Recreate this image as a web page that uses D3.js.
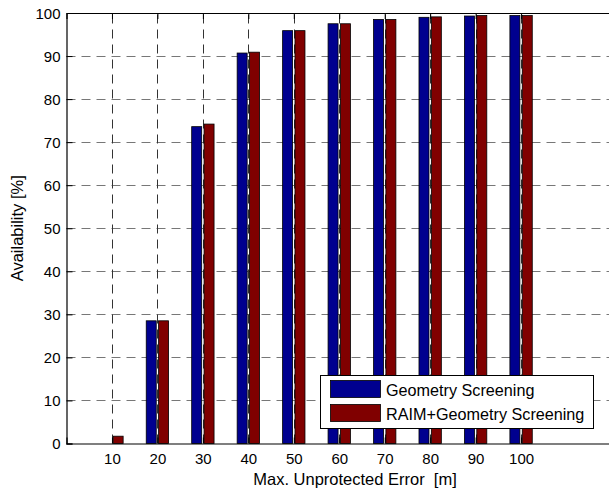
<!DOCTYPE html>
<html>
<head>
<meta charset="utf-8">
<script src="https://cdn.jsdelivr.net/npm/d3@7"></script>
<style>
  html, body { margin: 0; padding: 0; background: #fff; overflow: hidden; }
  svg { display: block; font-family: "Liberation Sans", Arial, sans-serif; }
  text { white-space: pre; }
</style>
</head>
<body>
<svg id="chart" width="609" height="491"></svg>
<script>
// ---- data ----
const categories = [10, 20, 30, 40, 50, 60, 70, 80, 90, 100];
const geometryScreening = [0, 28.5, 73.6, 90.7, 95.9, 97.5, 98.5, 99.0, 99.3, 99.4];
const raimGeometryScreening = [1.7, 28.5, 74.2, 90.9, 95.9, 97.5, 98.5, 99.1, 99.4, 99.4];
const seriesNames = ["Geometry Screening", "RAIM+Geometry Screening"];
const seriesColors = ["#00008f", "#800000"];
const xTicks = [10, 20, 30, 40, 50, 60, 70, 80, 90, 100];
const yTicks = [0, 10, 20, 30, 40, 50, 60, 70, 80, 90, 100];
const xLabel = "Max. Unprotected Error  [m]";
const yLabel = "Availability [%]";

(function () {
// ---- layout ----
const pLeft = 66.5, pRight = 612, pTop = 13, pBottom = 443.5;
const svg = d3.select("#chart");

const x = d3.scaleLinear().domain([0, 120]).range([pLeft, pRight]);
const y = d3.scaleLinear().domain([0, 100]).range([pBottom, pTop]);

const barWidth = 2.2;   // in data units
const offset = 1.36;    // in data units

// grid
const grid = svg.append("g");
grid.selectAll("line.h").data(yTicks.filter(d => d > 0 && d < 100)).enter()
  .append("line")
  .attr("x1", pLeft).attr("x2", pRight)
  .attr("y1", d => Math.round(y(d)) + 0.5).attr("y2", d => Math.round(y(d)) + 0.5)
  .attr("stroke", "#777").attr("stroke-width", 1)
  .attr("stroke-dasharray", "9,6");
grid.selectAll("line.v").data(xTicks).enter()
  .append("line")
  .attr("x1", d => Math.round(x(d)) + 0.5).attr("x2", d => Math.round(x(d)) + 0.5)
  .attr("y1", pBottom).attr("y2", pTop)
  .attr("stroke", "#333").attr("stroke-width", 1)
  .attr("stroke-dasharray", "9,6");

// bars
const series = [geometryScreening, raimGeometryScreening];
const offsets = [-offset, offset];
series.forEach((vals, si) => {
  svg.append("g").selectAll("rect").data(categories).enter()
    .append("rect")
    .attr("x", (c) => x(c + offsets[si] - barWidth / 2))
    .attr("width", (c) => x(c + offsets[si] + barWidth / 2) - x(c + offsets[si] - barWidth / 2))
    .attr("y", (c, i) => y(vals[i]))
    .attr("height", (c, i) => y(0) - y(vals[i]))
    .attr("fill", seriesColors[si])
    .attr("stroke", "#000").attr("stroke-width", 0.8)
    .attr("display", (c, i) => vals[i] > 0 ? null : "none");
});

// axes
const xAxis = d3.axisBottom(x).tickValues(xTicks).tickSize(-6).tickPadding(10).tickFormat(d3.format("d"));
const gx = svg.append("g").attr("transform", `translate(0,${pBottom})`).call(xAxis);
const xAxisTop = d3.axisTop(x).tickValues(xTicks).tickSize(-6).tickFormat("");
const gxt = svg.append("g").attr("transform", `translate(0,${pTop})`).call(xAxisTop);
const yAxis = d3.axisLeft(y).tickValues(yTicks).tickSize(-6).tickPadding(6).tickFormat(d3.format("d"));
const gy = svg.append("g").attr("transform", `translate(${pLeft},0)`).call(yAxis);

[gx, gxt, gy].forEach(g => {
  g.select(".domain").attr("stroke", "#000").attr("stroke-width", 1.2);
  g.selectAll(".tick line").attr("stroke", "#000");
  g.selectAll(".tick text").attr("fill", "#000").attr("font-size", 15)
    .attr("font-family", "Liberation Sans, Arial, sans-serif");
});
gy.selectAll(".tick text").attr("dy", "0.36em");
gy.selectAll(".tick").filter(d => d === 100).select("line").remove();

// axis labels
svg.append("text")
  .attr("x", 355).attr("y", 485)
  .attr("text-anchor", "middle")
  .attr("font-size", 16.5).attr("fill", "#000")
  .text(xLabel);
svg.append("text")
  .attr("transform", `translate(23,${(pTop + pBottom) / 2}) rotate(-90)`)
  .attr("text-anchor", "middle")
  .attr("font-size", 16.5).attr("fill", "#000")
  .text(yLabel);

// legend
const lg = svg.append("g");
lg.append("rect").attr("x", 320.5).attr("y", 375.5).attr("width", 273).attr("height", 53)
  .attr("fill", "#fff").attr("stroke", "#000").attr("stroke-width", 1);
seriesNames.forEach((name, i) => {
  lg.append("rect").attr("x", 330.5).attr("y", 380.5 + i * 24).attr("width", 50).attr("height", 17)
    .attr("fill", seriesColors[i]).attr("stroke", "#000").attr("stroke-width", 0.8);
  lg.append("text").attr("x", 386).attr("y", 395.5 + i * 24)
    .attr("font-size", 16.2).attr("fill", "#000").text(name);
});
})();
</script>
</body>
</html>
